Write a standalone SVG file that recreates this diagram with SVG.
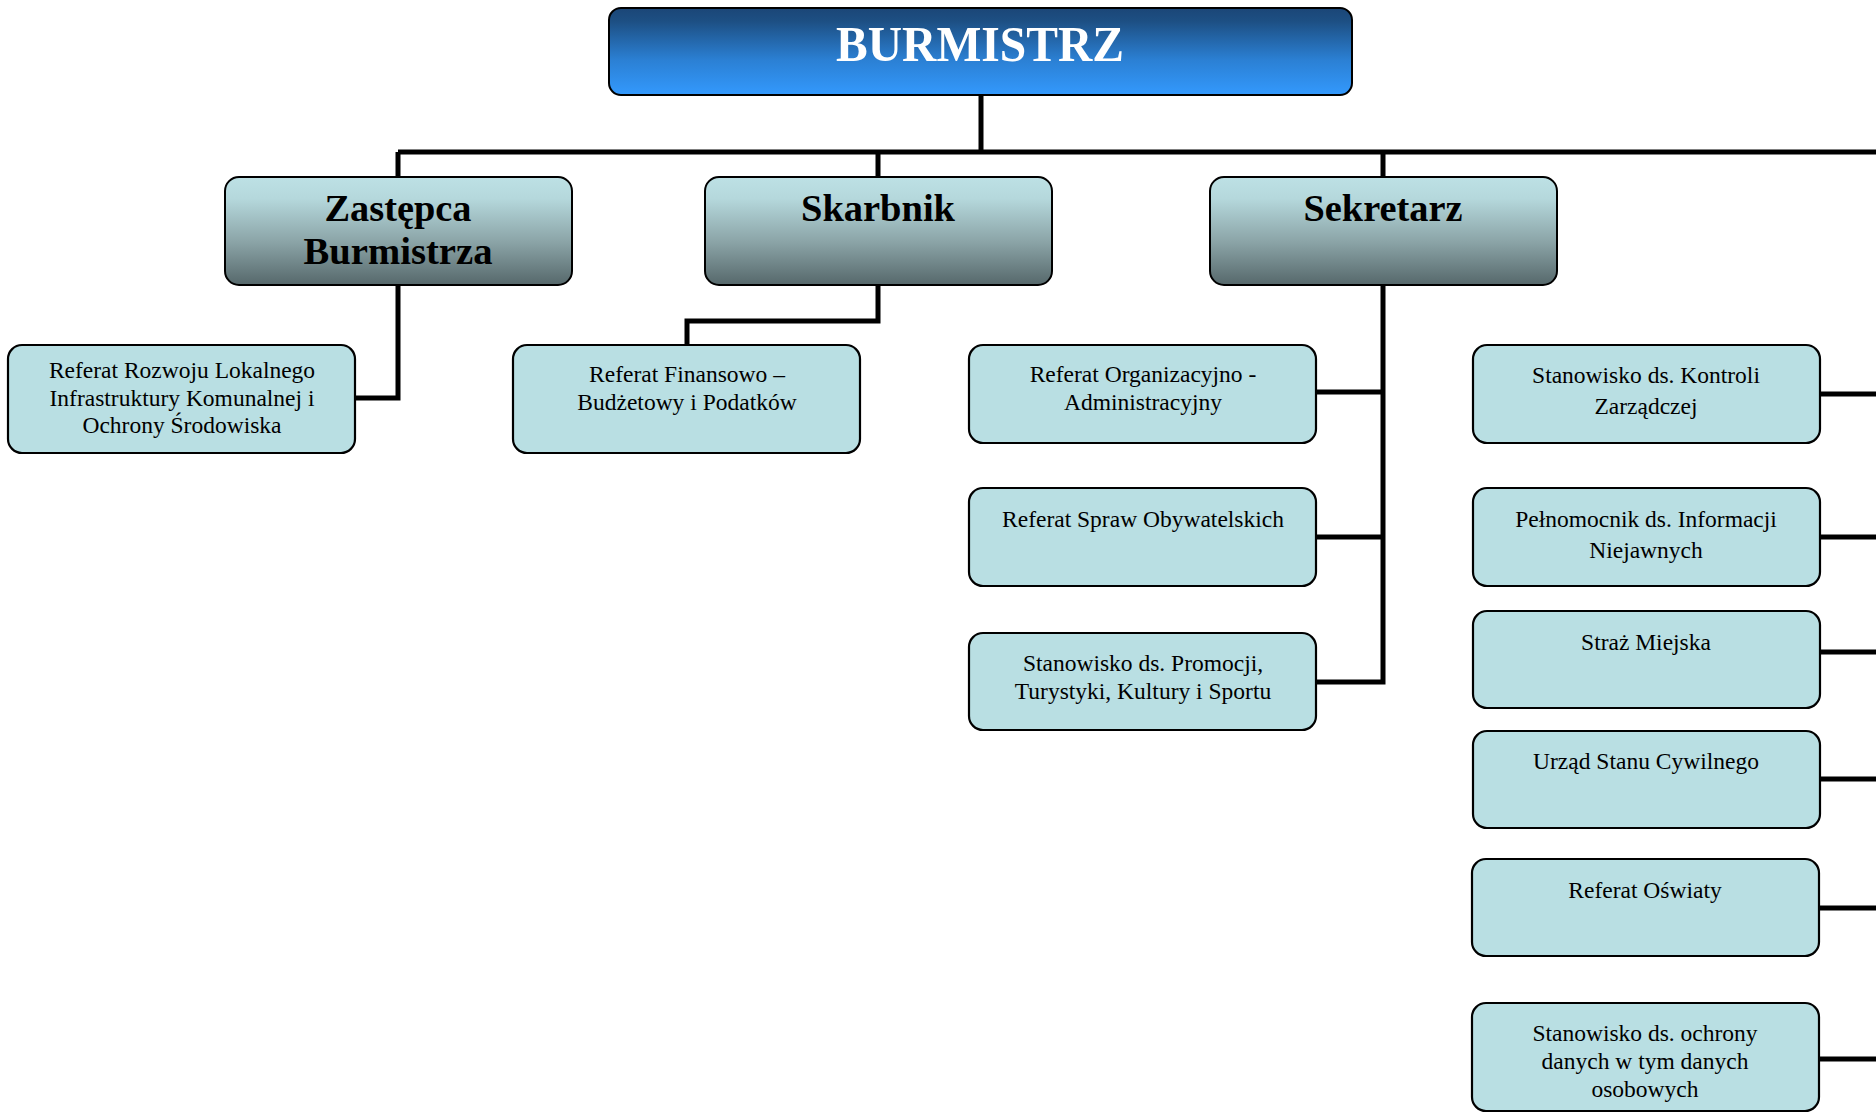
<svg xmlns="http://www.w3.org/2000/svg" width="1876" height="1113" viewBox="0 0 1876 1113">
<defs>
<linearGradient id="gTop" x1="0" y1="0" x2="0" y2="1">
<stop offset="0" stop-color="#1b4677"/>
<stop offset="0.15" stop-color="#1d4f83"/>
<stop offset="0.6" stop-color="#2b80d4"/>
<stop offset="1" stop-color="#3399fd"/>
</linearGradient>
<linearGradient id="gMid" x1="0" y1="0" x2="0" y2="1">
<stop offset="0" stop-color="#bde1e5"/>
<stop offset="0.2" stop-color="#b5d8dc"/>
<stop offset="0.6" stop-color="#8ba4a7"/>
<stop offset="1" stop-color="#56686b"/>
</linearGradient>
<style>
.top{fill:url(#gTop);stroke:#000;stroke-width:2}
.mid{fill:url(#gMid);stroke:#000;stroke-width:2}
.leaf{fill:#b9dfe3;stroke:#000;stroke-width:2.2}
.t1{font-family:"Liberation Serif",serif;font-weight:bold;font-size:50px;fill:#fff;text-anchor:middle}
.t2{font-family:"Liberation Serif",serif;font-weight:bold;font-size:38px;fill:#000;text-anchor:middle}
.t3{font-family:"Liberation Serif",serif;font-size:23.5px;fill:#000;text-anchor:middle}
.c{fill:none;stroke:#000;stroke-width:5}
</style>
</defs>
<g id="connectors">
<path class="c" d="M981 95V152"/>
<path class="c" d="M398 152H1876"/>
<path class="c" d="M398 152V177M878 152V177M1383 152V177"/>
<path class="c" d="M398 285V398H355"/>
<path class="c" d="M878 285V321H687V345"/>
<path class="c" d="M1383 285V682H1316M1316 392H1383M1316 537H1383"/>
<path class="c" d="M1820 394H1876M1820 537H1876M1820 652H1876M1820 779H1876M1819 908H1876M1819 1059H1876"/>
</g>
<g id="burmistrz">
<rect class="top" x="609" y="8" width="743" height="87" rx="12"/>
<text class="t1" x="980" y="61" textLength="288" lengthAdjust="spacingAndGlyphs">BURMISTRZ</text>
</g>
<g id="zastepca">
<rect class="mid" x="225" y="177" width="347" height="108" rx="14"/>
<text class="t2" x="398" y="221" textLength="147" lengthAdjust="spacingAndGlyphs">Zastępca</text>
<text class="t2" x="398" y="264" textLength="189" lengthAdjust="spacingAndGlyphs">Burmistrza</text>
</g>
<g id="skarbnik">
<rect class="mid" x="705" y="177" width="347" height="108" rx="14"/>
<text class="t2" x="878" y="221" textLength="154" lengthAdjust="spacingAndGlyphs">Skarbnik</text>
</g>
<g id="sekretarz">
<rect class="mid" x="1210" y="177" width="347" height="108" rx="14"/>
<text class="t2" x="1383" y="221" textLength="159" lengthAdjust="spacingAndGlyphs">Sekretarz</text>
</g>
<g id="referat-rozwoju">
<rect class="leaf" x="8" y="345" width="347" height="108" rx="14"/>
<text class="t3" x="182" y="378">Referat Rozwoju Lokalnego</text>
<text class="t3" x="182" y="406">Infrastruktury Komunalnej i</text>
<text class="t3" x="182" y="433">Ochrony Środowiska</text>
</g>
<g id="referat-finansowo">
<rect class="leaf" x="513" y="345" width="347" height="108" rx="14"/>
<text class="t3" x="687" y="382">Referat Finansowo –</text>
<text class="t3" x="687" y="410">Budżetowy i Podatków</text>
</g>
<g id="referat-organizacyjno">
<rect class="leaf" x="969" y="345" width="347" height="98" rx="14"/>
<text class="t3" x="1143" y="382">Referat Organizacyjno -</text>
<text class="t3" x="1143" y="410">Administracyjny</text>
</g>
<g id="referat-spraw">
<rect class="leaf" x="969" y="488" width="347" height="98" rx="14"/>
<text class="t3" x="1143" y="527">Referat Spraw Obywatelskich</text>
</g>
<g id="stanowisko-promocji">
<rect class="leaf" x="969" y="633" width="347" height="97" rx="14"/>
<text class="t3" x="1143" y="671">Stanowisko ds. Promocji,</text>
<text class="t3" x="1143" y="699">Turystyki, Kultury i Sportu</text>
</g>
<g id="kontrola">
<rect class="leaf" x="1473" y="345" width="347" height="98" rx="14"/>
<text class="t3" x="1646" y="383">Stanowisko ds. Kontroli</text>
<text class="t3" x="1646" y="414">Zarządczej</text>
</g>
<g id="pelnomocnik">
<rect class="leaf" x="1473" y="488" width="347" height="98" rx="14"/>
<text class="t3" x="1646" y="527">Pełnomocnik ds. Informacji</text>
<text class="t3" x="1646" y="558">Niejawnych</text>
</g>
<g id="straz">
<rect class="leaf" x="1473" y="611" width="347" height="97" rx="14"/>
<text class="t3" x="1646" y="650">Straż Miejska</text>
</g>
<g id="usc">
<rect class="leaf" x="1473" y="731" width="347" height="97" rx="14"/>
<text class="t3" x="1646" y="769">Urząd Stanu Cywilnego</text>
</g>
<g id="oswiata">
<rect class="leaf" x="1472" y="859" width="347" height="97" rx="14"/>
<text class="t3" x="1645" y="898">Referat Oświaty</text>
</g>
<g id="ochrona-danych">
<rect class="leaf" x="1472" y="1003" width="347" height="108" rx="14"/>
<text class="t3" x="1645" y="1041">Stanowisko ds. ochrony</text>
<text class="t3" x="1645" y="1069">danych w tym danych</text>
<text class="t3" x="1645" y="1097">osobowych</text>
</g>
</svg>
